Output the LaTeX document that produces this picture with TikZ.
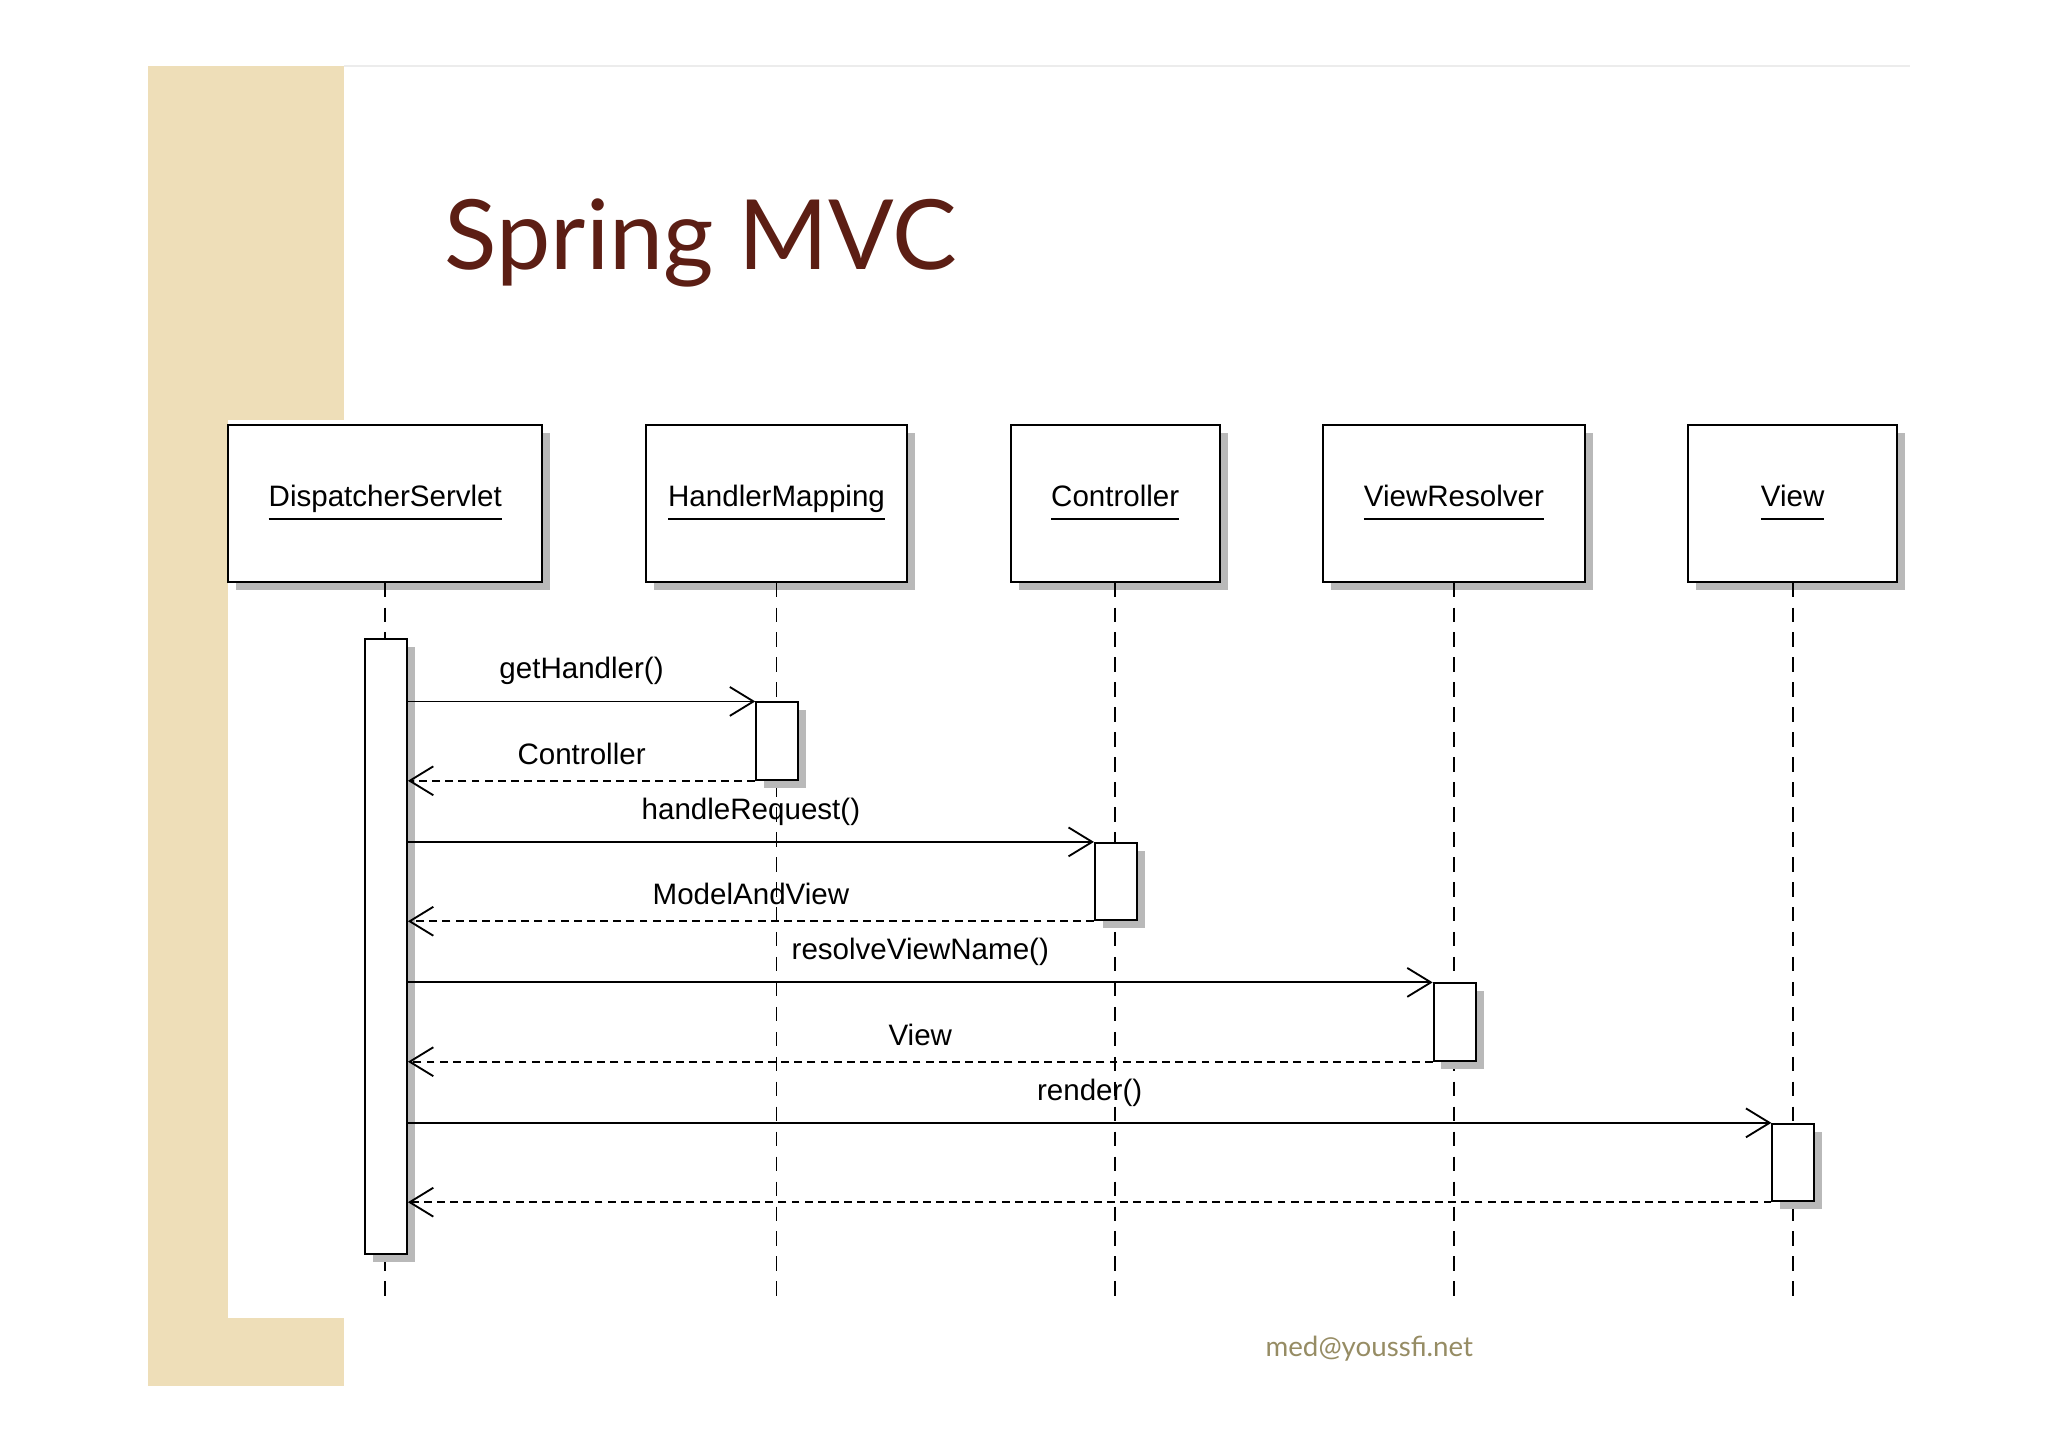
\documentclass[tikz,border=0pt]{standalone}
\usepackage{fontspec}
\setmainfont{Liberation Sans}
\newfontfamily\titlefont{Lato}
\usetikzlibrary{shadows, arrows.meta}
\definecolor{beige}{RGB}{238,222,184}
\definecolor{titlebrown}{RGB}{92,30,20}
\definecolor{olive}{RGB}{150,140,100}
\newcommand{\uname}[1]{\underline{#1\vphantom{gp}}}
\tikzstyle{obj} = [rectangle, draw=black, fill=white, minimum height=1.19cm, text centered, font=\fontsize{6.4}{8}\selectfont, drop shadow={shadow xshift=0.06cm, shadow yshift=-0.06cm, opacity=1, fill=gray!55}]
\tikzstyle{act} = [rectangle, draw=black, fill=white, minimum width=0.32cm, inner sep=0pt, drop shadow={shadow xshift=0.06cm, shadow yshift=-0.06cm, opacity=1, fill=gray!55}]
\tikzstyle{life} = [dashed, dash pattern=on 0.11cm off 0.08cm, thin]
\tikzstyle{call} = [thin, -{Straight Barb[length=0.18cm, width=0.22cm]}]
\tikzstyle{ret} = [thin, dashed, dash pattern=on 0.06cm off 0.04cm, -{Straight Barb[length=0.18cm, width=0.22cm]}]
\tikzstyle{lbl} = [font=\fontsize{6.4}{8}\selectfont]
\begin{document}
\begin{tikzpicture}[x=0.01cm, y=-0.01cm]
\useasboundingbox (0,0) rectangle (1560,1102);
% slide background
\fill[beige] (113,50) rectangle (174,1056);
\fill[beige] (174,50) rectangle (262,320);
\fill[beige] (174,1004) rectangle (262,1056);
\draw[gray!15] (262,50) -- (1455,50);
\node (title) [anchor=base west, inner sep=0pt, text=titlebrown, font=\titlefont\fontsize{21}{25}\selectfont] at (338,205) {Spring MVC};
\node (mail) [text=olive, font=\titlefont\fontsize{6}{7}\selectfont] at (1043,1027) {med@youssfi.net};

% objects
\node (ds) [obj, minimum width=2.39cm] at (293.5,383.5) {\uname{DispatcherServlet}};
\node (hm) [obj, minimum width=1.99cm] at (591.5,383.5) {\uname{HandlerMapping}};
\node (ct) [obj, minimum width=1.59cm] at (849.5,383.5) {\uname{Controller}};
\node (vr) [obj, minimum width=1.99cm] at (1107.5,383.5) {\uname{ViewResolver}};
\node (vw) [obj, minimum width=1.59cm] at (1365.5,383.5) {\uname{View}};

% lifelines
\foreach \o in {ds,hm,ct,vr,vw}
  \draw[life] (\o.south) -- ++(0,547);

% activations
\node (dsA) [act, minimum height=4.68cm] at (294,721) {};
\node (hmA) [act, minimum height=0.59cm] at (592,564.5) {};
\node (ctA) [act, minimum height=0.59cm] at (850,671.5) {};
\node (vrA) [act, minimum height=0.59cm] at (1108,778.5) {};
\node (vwA) [act, minimum height=0.59cm] at (1366,885.5) {};

% messages
\draw [call] (dsA.east |- hmA.north) -- node[lbl, above, pos=0.5]{getHandler()} (hmA.north west);
\draw [ret] (hmA.south west) -- node[lbl, above, pos=0.5]{Controller} (dsA.east |- hmA.south);
\draw [call] (dsA.east |- ctA.north) -- node[lbl, above, pos=0.5]{handleRequest()} (ctA.north west);
\draw [ret] (ctA.south west) -- node[lbl, above, pos=0.5]{ModelAndView} (dsA.east |- ctA.south);
\draw [call] (dsA.east |- vrA.north) -- node[lbl, above, pos=0.5]{resolveViewName()} (vrA.north west);
\draw [ret] (vrA.south west) -- node[lbl, above, pos=0.5]{View} (dsA.east |- vrA.south);
\draw [call] (dsA.east |- vwA.north) -- node[lbl, above, pos=0.5]{render()} (vwA.north west);
\draw [ret] (vwA.south west) -- (dsA.east |- vwA.south);
\end{tikzpicture}
\end{document}
